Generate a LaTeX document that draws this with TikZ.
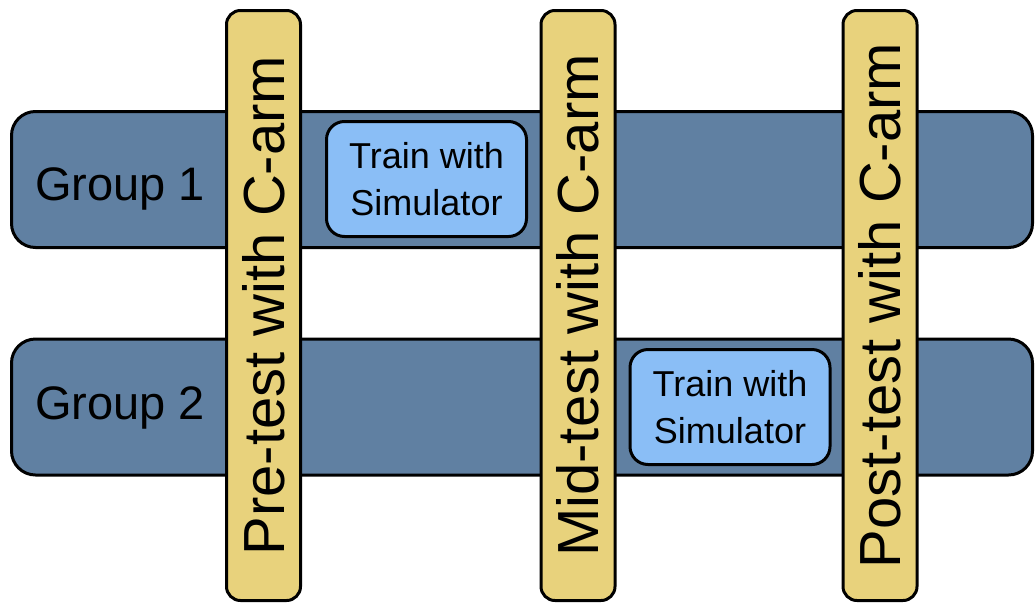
\documentclass[tikz,border=0pt]{standalone}
\usepackage{fontspec}
\setmainfont{Liberation Sans}
\usepackage{tikz}
\definecolor{grp}{HTML}{6080A2}
\definecolor{tst}{HTML}{E8D27C}
\definecolor{trn}{HTML}{8ABEF6}

\tikzset{
  groupbar/.style={draw=black, line width=3pt, fill=grp, rounded corners=24pt,
    minimum width=1021pt, minimum height=136pt, inner sep=0pt},
  testbar/.style={draw=black, line width=3pt, fill=tst, rounded corners=14pt,
    rotate=90, minimum width=590pt, minimum height=74pt, inner sep=0pt,
    font=\fontsize{58}{66}\selectfont},
  trainbox/.style={draw=black, line width=3pt, fill=trn, rounded corners=18pt,
    minimum width=200pt, minimum height=115pt, align=center, inner sep=0pt,
    font=\fontsize{36}{47}\selectfont},
  grouplabel/.style={anchor=base west, inner sep=0pt, font=\fontsize{47}{54}\selectfont}
}

\begin{document}
\begin{tikzpicture}[x=1pt, y=-1pt]
  \useasboundingbox (0,0) rectangle (1035,603);
  % Horizontal group bars
  \node[groupbar] (g1) at (522,179.5) {};
  \node[groupbar] (g2) at (522,407) {};
  \node[grouplabel] (g1label) at (35,200) {Group 1};
  \node[grouplabel] (g2label) at (35,419) {Group 2};
  % Simulator training blocks
  \node[trainbox] (train1) at (426.5,179) {Train with\\Simulator};
  \node[trainbox] (train2) at (730,407) {Train with\\Simulator};
  % Vertical test bars on top
  \node[testbar] (pre) at (263.5,305.5) {Pre-test with C-arm};
  \node[testbar] (mid) at (578,305.5) {Mid-test with C-arm};
  \node[testbar] (post) at (880,305.5) {Post-test with C-arm};
\end{tikzpicture}
\end{document}
